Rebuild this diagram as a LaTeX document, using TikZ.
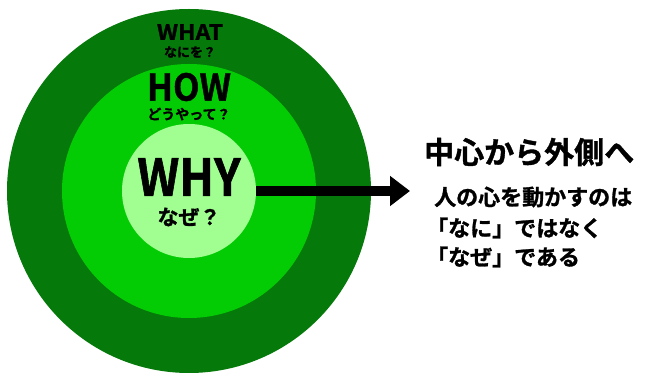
\documentclass[tikz,border=0pt]{standalone}
\usepackage{fontspec}
\setmainfont{Noto Sans CJK JP}[BoldFont={Noto Sans CJK JP Bold}, BoldFeatures={FakeBold=1.2}]
\usetikzlibrary{arrows.meta}
\definecolor{outerg}{RGB}{5,122,10}
\definecolor{midg}{RGB}{4,204,4}
\definecolor{innerg}{RGB}{160,255,144}
\tikzset{
  ring/.style={circle, inner sep=0pt, draw=none},
  lbl/.style={font=\bfseries, text=black, inner sep=0pt, anchor=center},
}
\begin{document}
\begin{tikzpicture}[x=1pt,y=1pt]
\useasboundingbox (0,0) rectangle (647,372);
\fill[white] (0,0) rectangle (647,372);
\node[ring, fill=outerg, minimum size=364pt] (what) at (189,181) {};
\node[ring, fill=midg, minimum size=254pt] (how) at (189,181) {};
\node[ring, fill=innerg, minimum size=134pt] (why) at (189,181) {};
\node[lbl, font=\bfseries\fontsize{21}{21}\selectfont, xscale=1.1] (whatt) at (190,340) {WHAT};
\node[lbl, font=\bfseries\fontsize{13}{13}\selectfont] (whatj) at (190,320) {なにを？};
\node[lbl, font=\bfseries\fontsize{37}{37}\selectfont, xscale=0.93] (howt) at (189,285) {HOW};
\node[lbl, font=\bfseries\fontsize{14}{14}\selectfont] (howj) at (189,258) {どうやって？};
\node[lbl, font=\bfseries\fontsize{51}{51}\selectfont, xscale=0.9] (whyt) at (189,195) {WHY};
\node[lbl, font=\bfseries\fontsize{21}{21}\selectfont] (whyj) at (189,155) {なぜ？};
\coordinate (tip) at (410,181);
\draw[line width=10pt, -{Triangle[length=20pt,width=29pt]}] (why.east) -- (tip);
\node[lbl, font=\bfseries\fontsize{30}{30}\selectfont, anchor=west] (head) at (424,220) {中心から外側へ};
\node[lbl, font=\bfseries\fontsize{22}{22}\selectfont, anchor=west] (l1) at (434,175) {人の心を動かすのは};
\node[lbl, font=\bfseries\fontsize{22}{22}\selectfont, anchor=west] (l2) at (426,144) {「なに」ではなく};
\node[lbl, font=\bfseries\fontsize{22}{22}\selectfont, anchor=west] (l3) at (426,115) {「なぜ」である};
\end{tikzpicture}
\end{document}
